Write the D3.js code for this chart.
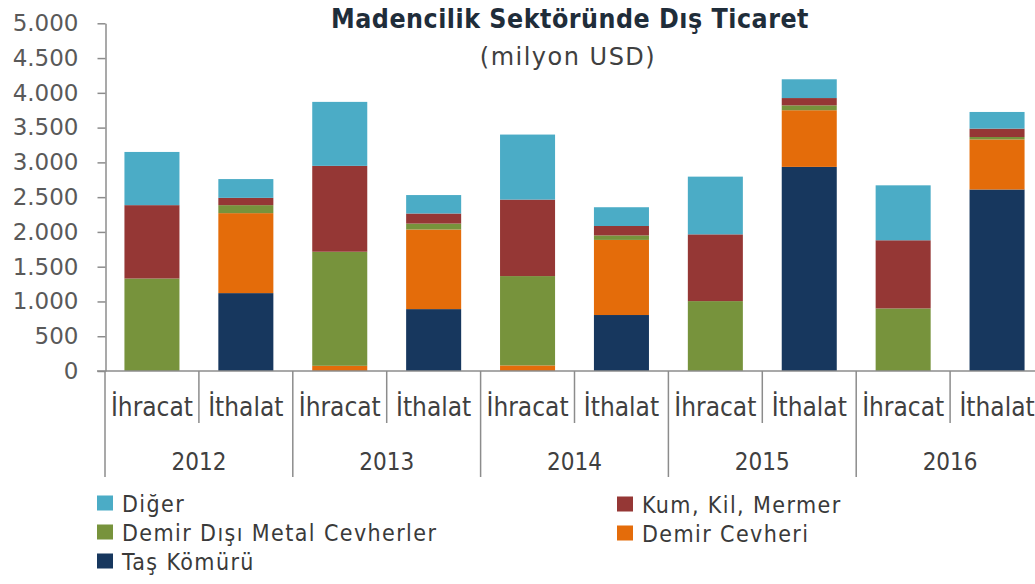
<!DOCTYPE html>
<html>
<head>
<meta charset="utf-8">
<script src="https://cdn.jsdelivr.net/npm/d3@7"></script>
<style>
  html, body { margin: 0; padding: 0; background: #fff; overflow: hidden; }
  svg { display: block; }
</style>
</head>
<body>
<svg id="chart" width="1035" height="584"></svg>
<script>
// years and flow types (x axis, two levels)
const years = ["2012", "2013", "2014", "2015", "2016"];
const flows = ["İhracat", "İthalat"];

// series, bottom to top; each array runs 2012 İhracat, 2012 İthalat, 2013 İhracat ...
const seriesNames = ["Taş Kömürü", "Demir Cevheri", "Demir Dışı Metal Cevherler", "Kum, Kil, Mermer", "Diğer"];
const tasKomuru    = [0, 1120, 0, 890, 0, 805, 0, 2935, 0, 2610];
const demirCevheri = [0, 1150, 75, 1145, 80, 1080, 0, 815, 0, 720];
const demirDisi    = [1330, 115, 1640, 85, 1285, 65, 1005, 70, 900, 35];
const kumKil       = [1055, 105, 1235, 145, 1100, 135, 960, 105, 980, 120];
const diger        = [765, 270, 920, 265, 935, 270, 830, 270, 790, 240];
const colors = ["#17375e", "#e46c0a", "#77933c", "#953735", "#4bacc6"];

const yTicks = [0, 500, 1000, 1500, 2000, 2500, 3000, 3500, 4000, 4500, 5000];

const svg = d3.select("#chart");
const axisColor = "#8c8c8c";
const condensed = "'DejaVu Sans Condensed', 'DejaVu Sans', sans-serif";

// build rows for the stack
const rows = [];
years.forEach((y, i) => flows.forEach((f, j) => {
  const k = i * 2 + j;
  rows.push({ year: y, flow: f,
    "Taş Kömürü": tasKomuru[k], "Demir Cevheri": demirCevheri[k],
    "Demir Dışı Metal Cevherler": demirDisi[k], "Kum, Kil, Mermer": kumKil[k], "Diğer": diger[k] });
}));
const stacked = d3.stack().keys(seriesNames)(rows);

const x0 = d3.scaleBand().domain(years).range([105, 1044]);
const x1 = d3.scaleBand().domain(flows).range([0, x0.bandwidth()])
  .paddingInner(0.414).paddingOuter(0.207);
const yScale = d3.scaleLinear().domain([0, 5000]).range([371, 23.3]);

// bars
svg.append("g").selectAll("g")
  .data(stacked)
  .join("g")
  .attr("fill", (d, i) => colors[i])
  .selectAll("rect")
  .data(d => d)
  .join("rect")
  .attr("x", d => x0(d.data.year) + x1(d.data.flow))
  .attr("y", d => yScale(d[1]))
  .attr("width", x1.bandwidth())
  .attr("height", d => yScale(d[0]) - yScale(d[1]));

// y axis
const fmt = d3.formatLocale({ decimal: ",", thousands: ".", grouping: [3], currency: ["", ""] }).format(",");
const yAxis = svg.append("g")
  .attr("transform", "translate(105.5,0)")
  .call(d3.axisLeft(yScale).tickValues(yTicks).tickSize(8).tickSizeOuter(0).tickPadding(19).tickFormat(fmt));
yAxis.select(".domain").attr("stroke", axisColor).attr("stroke-width", 1.5);
yAxis.selectAll(".tick line").attr("stroke", axisColor).attr("stroke-width", 1.5);
yAxis.selectAll(".tick text")
  .attr("fill", "#595959")
  .style("font-family", "'DejaVu Sans', sans-serif")
  .style("font-size", "23px");

// x axis: baseline, separators and two rows of labels
const xg = svg.append("g");
xg.append("line")
  .attr("x1", 97).attr("x2", 1044)
  .attr("y1", yScale(0)).attr("y2", yScale(0))
  .attr("stroke", axisColor).attr("stroke-width", 1.5);

xg.selectAll(".yearsep")
  .data(years.concat(["end"]))
  .join("line")
  .attr("x1", d => d === "end" ? x0.range()[1] : x0(d))
  .attr("x2", d => d === "end" ? x0.range()[1] : x0(d))
  .attr("y1", yScale(0)).attr("y2", 477)
  .attr("stroke", axisColor).attr("stroke-width", 1.5);

xg.selectAll(".flowsep")
  .data(years)
  .join("line")
  .attr("x1", d => x0(d) + x0.bandwidth() / 2)
  .attr("x2", d => x0(d) + x0.bandwidth() / 2)
  .attr("y1", yScale(0)).attr("y2", 423)
  .attr("stroke", axisColor).attr("stroke-width", 1.5);

xg.selectAll(".flowlabel")
  .data(rows)
  .join("text")
  .attr("x", d => x0(d.year) + x1(d.flow) + x1.bandwidth() / 2)
  .attr("y", 416)
  .attr("text-anchor", "middle")
  .attr("fill", "#404040")
  .style("font-family", condensed)
  .style("font-size", "26px")
  .text(d => d.flow);

xg.selectAll(".yearlabel")
  .data(years)
  .join("text")
  .attr("x", d => x0(d) + x0.bandwidth() / 2)
  .attr("y", 470)
  .attr("text-anchor", "middle")
  .attr("fill", "#404040")
  .style("font-family", condensed)
  .style("font-size", "24px")
  .text(d => d);

// title
svg.append("text")
  .attr("x", 570).attr("y", 28)
  .attr("text-anchor", "middle")
  .attr("fill", "#1f2d3a")
  .style("font-family", condensed)
  .style("font-weight", "bold")
  .style("font-size", "26.5px")
  .style("letter-spacing", "0.5px")
  .text("Madencilik Sektöründe Dış Ticaret");

svg.append("text")
  .attr("x", 568).attr("y", 65)
  .attr("text-anchor", "middle")
  .attr("fill", "#404040")
  .style("font-family", "'DejaVu Sans', sans-serif")
  .style("font-size", "24px")
  .style("letter-spacing", "1.5px")
  .text("(milyon USD)");

// legend, in the reference's order
const legendItems = [
  { name: "Diğer", x: 97, y: 503 },
  { name: "Kum, Kil, Mermer", x: 617, y: 504 },
  { name: "Demir Dışı Metal Cevherler", x: 97, y: 532 },
  { name: "Demir Cevheri", x: 617, y: 533 },
  { name: "Taş Kömürü", x: 97, y: 561 }
];
const lg = svg.append("g").selectAll("g")
  .data(legendItems)
  .join("g")
  .attr("transform", d => `translate(${d.x},${d.y})`);
lg.append("rect")
  .attr("x", 0).attr("y", -7.5)
  .attr("width", 16).attr("height", 15)
  .attr("fill", d => colors[seriesNames.indexOf(d.name)]);
lg.append("text")
  .attr("x", 25).attr("y", 9)
  .attr("fill", "#3a3a3a")
  .style("font-family", condensed)
  .style("font-size", "23px")
  .style("letter-spacing", "1.4px")
  .text(d => d.name);
</script>
</body>
</html>
